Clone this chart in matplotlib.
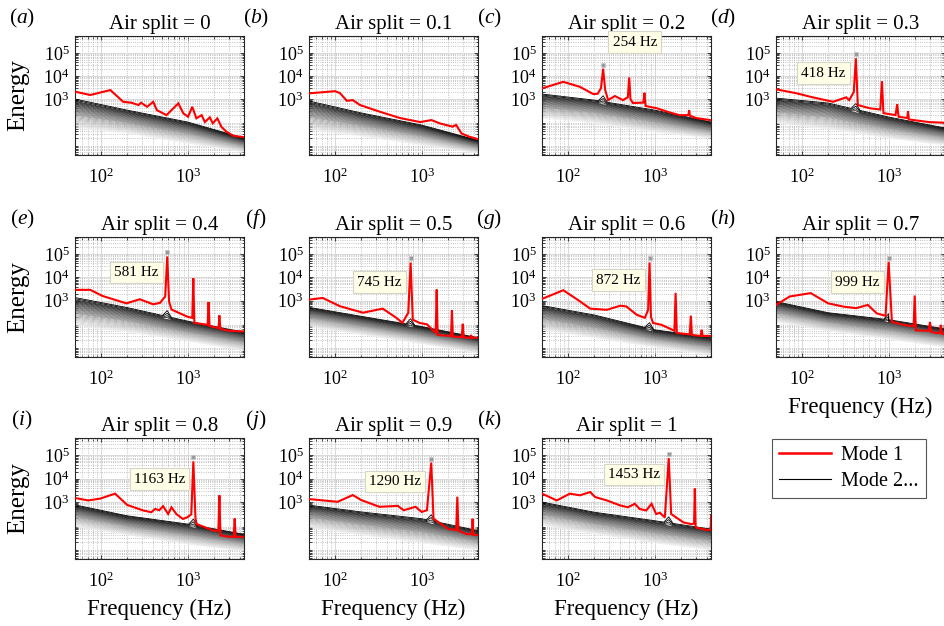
import numpy as np
import matplotlib
matplotlib.use('Agg')
import matplotlib.pyplot as plt
from matplotlib.lines import Line2D
from matplotlib.ticker import LogLocator, NullFormatter, FixedLocator, LogFormatterMathtext
import matplotlib.transforms as mtransforms

plt.rcParams['font.family'] = ['Liberation Serif', 'DejaVu Serif']
plt.rcParams['mathtext.fontset'] = 'custom'
plt.rcParams['mathtext.rm'] = 'Liberation Serif'
plt.rcParams['mathtext.it'] = 'Liberation Serif:italic'

# ---------------- data ----------------
AIR_SPLIT = ['0', '0.1', '0.2', '0.3', '0.4', '0.5', '0.6', '0.7', '0.8', '0.9', '1']
PANEL_LETTERS = ['a', 'b', 'c', 'd', 'e', 'f', 'g', 'h', 'i', 'j', 'k']
PEAK_FREQ = [None, None, 254, 418, 581, 745, 872, 999, 1163, 1290, 1453]
PEAK_LABELS = [None, None, '254 Hz', '418 Hz', '581 Hz', '745 Hz', '872 Hz',
               '999 Hz', '1163 Hz', '1290 Hz', '1453 Hz']

# Mode 1 (red) spectra: frequency (Hz) and energy
RED_F_A = [50, 75, 128, 180, 225, 270, 290, 340, 400, 440, 570, 780, 890, 1010, 1130, 1260,
           1450, 1580, 1800, 1950, 2200, 2450, 2800, 3400, 4500]
RED_E_A = [2100, 1500, 2460, 760, 690, 550, 690, 460, 760, 330, 200, 650, 240, 170, 460, 145,
           200, 100, 160, 88, 145, 62, 38, 25, 22]
RED_F_B = [50, 100, 114, 137, 160, 194, 330, 560, 960, 1300, 1610, 1900, 2270, 2500, 2880, 3560, 4500]
RED_E_B = [1770, 2200, 1800, 840, 900, 550, 280, 150, 100, 122, 88, 75, 63, 75, 32, 23, 18]
RED_F_C = [50, 88, 137, 195, 220, 240, 254, 268, 290, 347, 430, 490, 508, 525, 560, 740, 762,
           785, 1050, 1500, 1930, 2450, 2500, 2550, 3000, 4500]
RED_E_C = [2900, 5600, 3400, 1650, 1700, 3000, 21000, 2500, 900, 1350, 900, 1200, 8700, 1000,
           670, 700, 1880, 500, 400, 260, 200, 200, 330, 190, 150, 120]
RED_F_D = [50, 87, 124, 228, 323, 350, 395, 418, 440, 600, 800, 836, 870, 1200, 1254, 1300,
           1640, 1672, 1710, 2900, 4500]
RED_E_D = [2650, 1770, 1260, 760, 1190, 900, 2000, 59000, 550, 400, 350, 6000, 245, 200, 600,
           170, 150, 300, 130, 100, 93]
RED_F_E = [50, 75, 104, 196, 280, 400, 480, 550, 581, 610, 650, 1000, 1130, 1162, 1195, 1700,
           1743, 1790, 2270, 2324, 2380, 3000, 4500]
RED_E_E = [2900, 2900, 1580, 760, 1140, 690, 800, 1500, 80000, 900, 410, 200, 180, 9100, 110,
           90, 870, 80, 65, 230, 60, 50, 47]
RED_F_F = [50, 72, 114, 210, 355, 510, 600, 700, 745, 790, 950, 1150, 1450, 1490, 1530, 2180,
           2235, 2290, 2900, 2980, 3060, 3650, 3725, 3800, 4500]
RED_E_F = [1100, 1300, 570, 300, 450, 180, 110, 300, 44000, 150, 108, 95, 40, 3000, 33, 30,
           380, 28, 27, 100, 26, 25, 33, 25, 25]
RED_F_G = [50, 88, 137, 180, 280, 400, 470, 620, 770, 840, 872, 905, 960, 1200, 1690, 1744,
           1800, 2540, 2616, 2690, 3400, 3488, 3580, 4500]
RED_E_G = [1180, 2800, 930, 450, 400, 600, 560, 245, 180, 400, 44000, 200, 108, 90, 50, 2150,
           40, 35, 225, 33, 30, 55, 30, 30]
RED_F_H = [50, 72, 126, 200, 300, 420, 575, 730, 920, 999, 1090, 1600, 1940, 1998, 2060, 2900,
           2997, 3100, 3500, 3900, 3996, 4100, 4500]
RED_E_H = [650, 1500, 2100, 760, 550, 470, 650, 280, 220, 47000, 120, 85, 80, 1650, 52, 50,
           120, 45, 40, 40, 90, 38, 35]
RED_F_I = [50, 71, 97, 145, 200, 306, 380, 420, 470, 520, 595, 650, 740, 880, 1000, 1100, 1163,
           1230, 1270, 1640, 2000, 2260, 2326, 2390, 3000, 3400, 3489, 3580, 4500]
RED_E_I = [1500, 1180, 1400, 2300, 760, 440, 370, 510, 450, 670, 310, 600, 310, 190, 230, 300,
           55000, 200, 115, 80, 60, 60, 1950, 38, 33, 33, 200, 33, 33]
RED_F_J = [50, 107, 160, 200, 325, 530, 620, 850, 1000, 1150, 1290, 1370, 2050, 2500, 2580,
           2660, 3300, 3800, 3870, 3950, 4500]
RED_E_J = [1350, 1030, 2000, 1230, 630, 690, 450, 630, 380, 450, 49000, 195, 70, 65, 1700, 60,
           43, 43, 195, 40, 39]
RED_F_K = [50, 74, 105, 137, 180, 205, 280, 400, 490, 590, 670, 800, 920, 1040, 1150, 1310,
           1453, 1550, 2150, 2650, 2850, 2906, 2970, 3050, 3950, 4420, 4480]
RED_E_K = [2300, 1180, 2300, 1950, 2700, 1650, 1180, 720, 600, 850, 510, 440, 850, 310, 350,
           220, 76000, 310, 135, 115, 120, 3800, 90, 80, 65, 65, 260]

RED_F = [RED_F_A, RED_F_B, RED_F_C, RED_F_D, RED_F_E, RED_F_F, RED_F_G, RED_F_H, RED_F_I, RED_F_J, RED_F_K]
RED_E = [RED_E_A, RED_E_B, RED_E_C, RED_E_D, RED_E_E, RED_E_F, RED_E_G, RED_E_H, RED_E_I, RED_E_J, RED_E_K]

# Higher modes (grey bundle): envelope of top (mode 2) and bottom (last mode) curves
GREY_F = [50, 200, 1000, 4500]
GREY_TOP = [[1000, 330, 100, 20], [820, 250, 74, 16], [1650, 900, 330, 100], [1100, 670, 165, 55],
            [1350, 500, 130, 43], [510, 210, 76, 25], [610, 240, 55, 25], [900, 300, 150, 60],
            [760, 260, 115, 42], [740, 380, 195, 60], [1000, 370, 160, 70]]
GREY_BOT = [[55, 33, 12, 5], [45, 25, 10, 4.5], [150, 90, 37, 20], [90, 50, 20, 10],
            [80, 45, 18, 7], [75, 35, 14, 5.5], [55, 25, 10, 4.5], [120, 50, 22, 10],
            [90, 40, 16, 8], [83, 40, 18, 9], [100, 45, 18, 9]]
MODE_FRAC = [0, 0.04, 0.08, 0.11, 0.14, 0.17, 0.2, 0.23, 0.26, 0.29, 0.32, 0.35, 0.38, 0.41,
             0.44, 0.47, 0.5, 0.53, 0.56, 0.6, 0.64, 0.68, 0.72, 0.76, 0.8, 0.84, 0.88, 0.92,
             0.96, 1.0]
MODE_BUMP = [1.8, 1.5, 1.3, 1.15]

# ---------------- layout ----------------
W, H = 945, 626
COL_LEFT = [75, 309, 542, 776]
ROW_TOP = [36, 237, 438]
ROW_BOT = [155, 357, 559]
AX_W = 169
BOX_POS = [None, None, (0.549, 0.948), (0.28, 0.687), (0.362, 0.706), (0.416, 0.625),
           (0.45, 0.64), (0.483, 0.625), (0.50, 0.66), (0.508, 0.642), (0.545, 0.70)]

fig = plt.figure(figsize=(W / 100, H / 100), dpi=100)

for p in range(11):
    r, c = divmod(p, 4)
    left = COL_LEFT[c]
    ax = fig.add_axes([left / W, 1 - ROW_BOT[r] / H, AX_W / W, (ROW_BOT[r] - ROW_TOP[r]) / H])
    ax.set_xscale('log')
    ax.set_yscale('log')

    # grey modes
    lt = np.log10(GREY_TOP[p])
    lb = np.log10(GREY_BOT[p])
    lf = np.log10(GREY_F)
    f1 = PEAK_FREQ[p]
    for k in range(len(MODE_FRAC) - 1, -1, -1):
        fr = MODE_FRAC[k]
        le = (1 - fr) * lt + fr * lb
        fx = list(GREY_F)
        ey = list(10 ** le)
        if f1 is not None and k < len(MODE_BUMP):
            extra_f = [f1 * 0.88, f1, f1 * 1.12]
            for j, ef in enumerate(extra_f):
                base = 10 ** np.interp(np.log10(ef), lf, le)
                fx.append(ef)
                ey.append(base * (MODE_BUMP[k] if j == 1 else 1.0))
            order = np.argsort(fx)
            fx = list(np.array(fx)[order])
            ey = list(np.array(ey)[order])
        g = 0.94 * max(0.0, (fr - 0.04) / 0.96) ** 0.7
        ax.plot(fx, ey, color=(g, g, g), lw=0.6, zorder=2)

    # mode 1
    ax.plot(RED_F[p], RED_E[p], color='red', lw=1.5, zorder=5, solid_joinstyle='miter')

    if f1 is not None:
        peak = max(RED_E[p])
        tr = mtransforms.offset_copy(ax.transData, fig=fig, x=0, y=4, units='dots')
        ax.plot([f1], [peak], marker='s', ms=3.2, color='#9a9a9a', mec='#c8c8c8', mew=0.5,
                transform=tr, zorder=7, clip_on=False)
        bx, by = BOX_POS[p]
        ax.text(bx, by, PEAK_LABELS[p], transform=ax.transAxes, ha='center', va='center',
                fontsize=11, zorder=10, clip_on=False,
                bbox=dict(boxstyle='square,pad=0.28', fc='#FFFFE8', ec='#d6d6c8', lw=0.8))

    ax.set_xlim(50, 4470)
    ax.set_ylim(3.7, 5.5e5)
    ax.xaxis.set_major_locator(FixedLocator([1e2, 1e3]))
    ax.yaxis.set_major_locator(FixedLocator([1e3, 1e4, 1e5]))
    ax.xaxis.set_major_formatter(LogFormatterMathtext())
    ax.yaxis.set_major_formatter(LogFormatterMathtext())
    ax.xaxis.set_minor_locator(LogLocator(base=10, subs=np.arange(2, 10), numticks=20))
    ax.yaxis.set_minor_locator(LogLocator(base=10, subs=np.arange(2, 10), numticks=20))
    ax.xaxis.set_minor_formatter(NullFormatter())
    ax.yaxis.set_minor_formatter(NullFormatter())
    ax.grid(True, which='major', color='#d9d9d9', lw=0.7, ls='-', zorder=0)
    ax.grid(True, which='minor', color='#b0b0b0', lw=0.6, ls=':', zorder=0)
    ax.set_axisbelow(True)
    ax.tick_params(which='both', direction='in', top=True, right=True, width=0.6, colors='#262626',
                   labelcolor='black', labelsize=13)
    ax.tick_params(which='major', length=3)
    ax.tick_params(which='minor', length=1.8)
    ax.tick_params(axis='x', pad=9)
    ax.tick_params(axis='y', pad=4)
    for s in ax.spines.values():
        s.set_linewidth(0.8)
        s.set_color('#262626')

    ax.set_title(f'Air split = {AIR_SPLIT[p]}', fontsize=15, pad=5)
    fig.text((left - 53) / W, 1 - (ROW_TOP[r] - 18) / H, rf'$(\mathit{{{PANEL_LETTERS[p]}}})$',
             fontsize=15.5, ha='center', va='center')
    if c == 0:
        fig.text(18 / W, 1 - (ROW_TOP[r] + ROW_BOT[r]) / 2 / H, 'Energy', rotation=90,
                 fontsize=18, ha='center', va='center')
    if p >= 7:
        fig.text((left + AX_W / 2) / W, 1 - (ROW_BOT[r] + 50) / H, 'Frequency (Hz)',
                 fontsize=16.5, ha='center', va='center')

handles = [Line2D([], [], color='red', lw=1.8), Line2D([], [], color='black', lw=0.8)]
leg = fig.legend(handles, ['Mode 1', 'Mode 2...'], loc='upper left',
                 bbox_to_anchor=(772 / W, 1 - 439 / H), fontsize=14.5, frameon=True,
                 fancybox=False, edgecolor='#555555', framealpha=1, borderpad=0.35,
                 handlelength=2.6, handletextpad=0.5, labelspacing=0.35, borderaxespad=0)
leg.get_frame().set_linewidth(0.8)

fig.savefig('out.png', dpi=100)
